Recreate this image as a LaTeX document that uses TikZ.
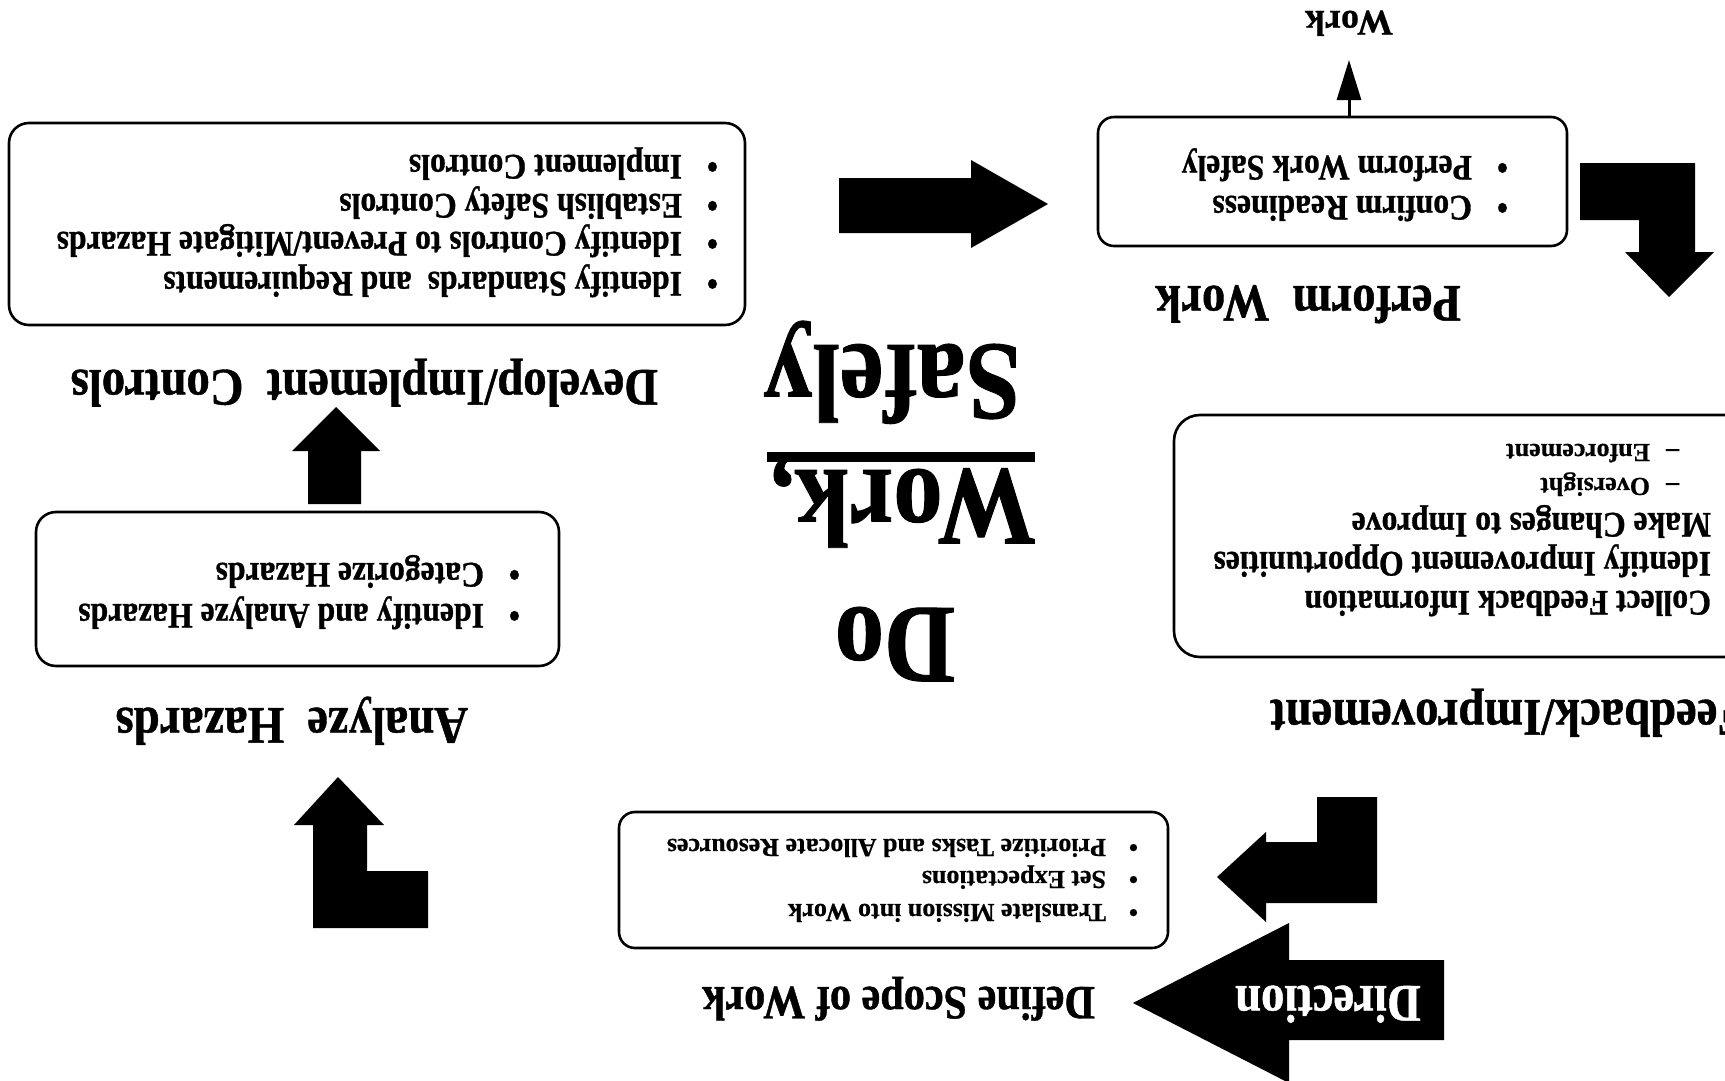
\documentclass[tikz,border=0pt]{standalone}
\usepackage{fontspec}
\setmainfont{Liberation Serif}
\newfontfamily\cnd[FakeStretch=0.88, BoldFeatures={FakeBold=0.8}]{Liberation Serif}
\newfontfamily\heavy[BoldFeatures={FakeBold=0.6}]{Liberation Serif}
\usetikzlibrary{arrows.meta}
\tikzset{
  ut/.style={rotate=180, inner sep=0pt, outer sep=0pt},
  panel/.style={draw, line width=2.6pt, rounded corners=20pt, inner sep=0pt},
  blockarrow/.style={fill=black, draw=none},
  bodytxt/.style={ut, anchor=base west, font=\cnd\bfseries\fontsize{36}{40}\selectfont},
  smalltxt/.style={ut, anchor=base west, font=\heavy\bfseries\fontsize{26}{30}\selectfont},
  headtxt/.style={ut, anchor=base west, font=\cnd\bfseries\fontsize{53}{60}\selectfont},
  bigtxt/.style={ut, anchor=base, font=\cnd\bfseries\fontsize{112}{120}\selectfont},
}
\begin{document}
\begin{tikzpicture}[x=1pt,y=-1pt]
\fill[white] (0,0) rectangle (1725,1081);
\useasboundingbox (0,0) rectangle (1725,1081);

% panels
\node[panel, minimum width=736pt, minimum height=202pt] (boxA) at (377,224) {};
\node[panel, minimum width=523pt, minimum height=154pt] (boxB) at (297.5,589) {};
\node[panel, minimum width=549pt, minimum height=136pt, rounded corners=16pt] (boxC) at (893.5,880) {};
\node[panel, minimum width=586pt, minimum height=242pt, rounded corners=26pt] (boxD) at (1467,536) {};
\node[panel, minimum width=469pt, minimum height=129pt, rounded corners=16pt] (boxE) at (1332.5,181.5) {};

% block arrows
\fill[blockarrow] (839,178) -- (971,178) -- (971,160) -- (1048,204) -- (971,248) -- (971,233) -- (839,233) -- cycle;
\fill[blockarrow] (336,407) -- (380,451) -- (361,451) -- (361,504) -- (308,504) -- (308,451) -- (292,451) -- cycle;
\fill[blockarrow] (338,777) -- (384,825) -- (367,825) -- (367,871) -- (428,871) -- (428,928) -- (313,928) -- (313,825) -- (294,825) -- cycle;
\fill[blockarrow] (1217,877) -- (1266,832) -- (1266,842) -- (1317,842) -- (1317,797) -- (1377,797) -- (1377,903) -- (1266,903) -- (1266,922) -- cycle;
\fill[blockarrow] (1133,1003) -- (1289,923) -- (1289,960) -- (1444,960) -- (1444,1040) -- (1289,1040) -- (1289,1083) -- cycle;
\fill[blockarrow] (1580,163) -- (1695,163) -- (1695,252) -- (1714,252) -- (1669,297) -- (1625,252) -- (1639,252) -- (1639,220) -- (1580,220) -- cycle;

% box A
\node[bodytxt] (a1) at (718,272) {\makebox[36pt][l]{•}Identify Standards\ \ and Requirements};
\node[bodytxt] (a2) at (718,232) {\makebox[36pt][l]{•}Identify Controls to Prevent/Mitigate Hazards};
\node[bodytxt] (a3) at (718,194) {\makebox[36pt][l]{•}Establish Safety Controls};
\node[bodytxt] (a4) at (718,155) {\makebox[36pt][l]{•}Implement Controls};
\node[headtxt] (ha) at (658,370) {Develop/Implement\ \ Controls};

% box B
\node[bodytxt] (b1) at (520,604) {\makebox[36pt][l]{•}Identify and Analyze Hazards};
\node[bodytxt] (b2) at (520,563) {\makebox[36pt][l]{•}Categorize Hazards};
\node[headtxt] (hb) at (468,708) {Analyze\ \ Hazards};

% box C
\node[smalltxt] (c1) at (1138,904) {\makebox[32pt][l]{•}Translate Mission into Work};
\node[smalltxt] (c2) at (1138,871) {\makebox[32pt][l]{•}Set Expectations};
\node[smalltxt] (c3) at (1138,839) {\makebox[32pt][l]{•}Prioritize Tasks and Allocate Resources};
\node[ut, anchor=base west, font=\cnd\bfseries\fontsize{48}{54}\selectfont] (hc) at (1095,987) {Define Scope of Work};

% box D
\node[bodytxt] (d1) at (1711,591) {Collect Feedback Information};
\node[bodytxt] (d2) at (1711,552) {Identify Improvement Opportunities};
\node[bodytxt] (d3) at (1711,513) {Make Changes to Improve};
\node[smalltxt] (d4) at (1679,478) {\makebox[29pt][l]{–}Oversight};
\node[smalltxt] (d5) at (1679,444) {\makebox[29pt][l]{–}Enforcement};
\node[headtxt] (hd) at (1746,700) {Feedback/Improvement};

% box E
\node[bodytxt] (e1) at (1508,196) {\makebox[36pt][l]{•}Confirm Readiness};
\node[bodytxt] (e2) at (1508,156) {\makebox[36pt][l]{•}Perform Work Safely};
\node[headtxt] (he) at (1461,286) {Perform\ \ Work};

% work output
\node[ut, anchor=base, font=\heavy\bfseries\fontsize{36}{40}\selectfont] (worklbl) at (1349,11) {Work};
\coordinate (worktip) at (1349,60);
\draw[line width=3pt, -{Triangle[length=40pt,width=24pt]}] (boxE.north -| worklbl) -- (worktip);

% direction
\node[ut, anchor=base, font=\cnd\bfseries\fontsize{53}{58}\selectfont, text=white] (dirlbl) at (1328,986) {Direction};

% centre title
\node[bigtxt] (tdo) at (895,608) {Do};
\node[bigtxt] (twork) at (903,470) {Work,};
\node[bigtxt] (tsafely) at (892,345) {Safely};
\draw[line width=10pt] (767,457) -- (1035,457);
\end{tikzpicture}
\end{document}
